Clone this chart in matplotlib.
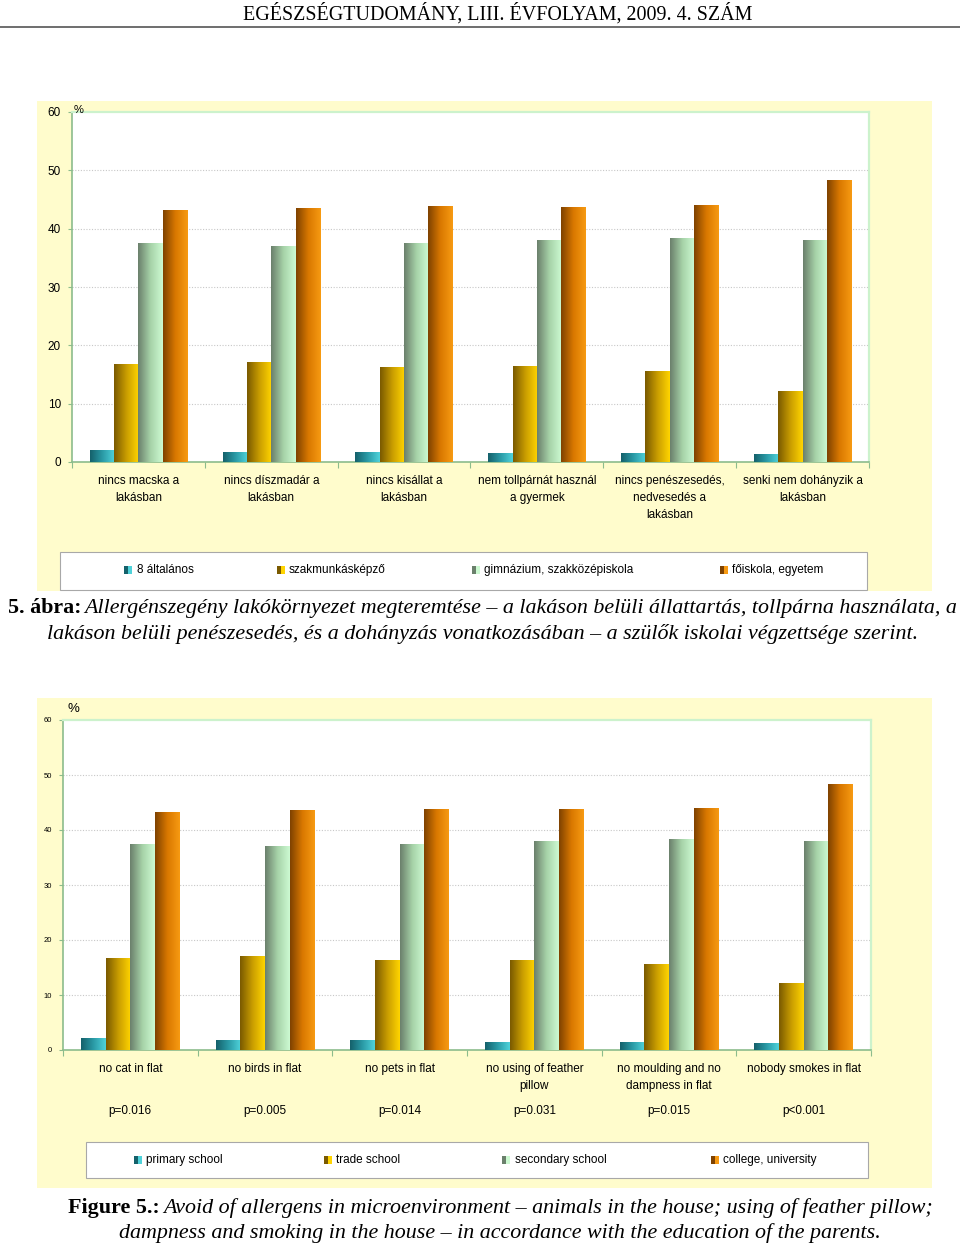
from __future__ import annotations

import matplotlib

matplotlib.use("Agg")
import matplotlib.pyplot as plt
import numpy as np
from matplotlib.colors import LinearSegmentedColormap
from matplotlib.lines import Line2D
from matplotlib.patches import Rectangle

W, H = 960, 1248

categories_hu = [
    "nincs macska a\nlakásban",
    "nincs díszmadár a\nlakásban",
    "nincs kisállat a\nlakásban",
    "nem tollpárnát használ\na gyermek",
    "nincs penészesedés,\nnedvesedés a\nlakásban",
    "senki nem dohányzik a\nlakásban",
]
categories_en = [
    "no cat in flat",
    "no birds in flat",
    "no pets in flat",
    "no using of feather\npillow",
    "no moulding and no\ndampness in flat",
    "nobody smokes in flat",
]
p_values = ["p=0.016", "p=0.005", "p=0.014", "p=0.031", "p=0.015", "p<0.001"]

series_hu = ["8 általános", "szakmunkásképző", "gimnázium, szakközépiskola", "főiskola, egyetem"]
series_en = ["primary school", "trade school", "secondary school", "college, university"]

primary = [2.1, 1.8, 1.8, 1.5, 1.5, 1.3]
trade = [16.8, 17.1, 16.3, 16.4, 15.6, 12.1]
secondary = [37.5, 37.1, 37.5, 38.0, 38.4, 38.0]
college = [43.2, 43.6, 43.9, 43.8, 44.0, 48.3]

y_ticks = [0, 10, 20, 30, 40, 50, 60]

GRADIENTS = [
    ["#15616b", "#2a9aa6", "#4fd2da"],
    ["#7a5a00", "#c99d00", "#ffd400"],
    ["#6b806c", "#a6d2a8", "#cdfad2"],
    ["#7f4200", "#d97800", "#f79a12"],
]
YELLOW = "#fffccc"
AXIS_GREEN = "#8cbc8c"
PALE_GREEN = "#ccf2cc"
SANS = ["Liberation Sans", "DejaVu Sans"]
SERIF = ["Liberation Serif", "DejaVu Serif"]
CAPTION_SIZE = 15.8


def _fx(x: float) -> float:
    return x / W


def _fy(y: float) -> float:
    return 1 - y / H


def _rect(fig, x0, y0, x1, y1, **kw) -> None:
    fig.add_artist(Rectangle((_fx(x0), _fy(y1)), (x1 - x0) / W, (y1 - y0) / H,
                             transform=fig.transFigure, **kw))


def _gradient_bars(ax, xs, heights, width, colors) -> None:
    cmap = LinearSegmentedColormap.from_list("bar", colors)
    grad = np.linspace(0, 1, 64).reshape(1, -1)
    bars = ax.bar(xs, heights, width, color="none", edgecolor="none", zorder=3)
    for bar in bars:
        x0, y0 = bar.get_x(), bar.get_y()
        im = ax.imshow(grad, extent=(x0, x0 + bar.get_width(), y0, y0 + bar.get_height()),
                       cmap=cmap, aspect="auto", interpolation="bilinear", zorder=3)
        im.set_clip_path(bar)


def _chart(fig, box, cats, tick_size, label_size):
    left, top, right, bottom = box
    ax = fig.add_axes([_fx(left), _fy(bottom), (right - left) / W, (bottom - top) / H])
    ax.set_facecolor("white")
    n = len(cats)
    xs = np.arange(n)
    width = 0.183
    for k, values in enumerate([primary, trade, secondary, college]):
        _gradient_bars(ax, xs + (k - 1.5) * width, values, width, GRADIENTS[k])
    ax.set_xlim(-0.5, n - 0.5)
    ax.set_ylim(0, 60)
    ax.set_yticks(y_ticks)
    ax.set_yticklabels([str(t) for t in y_ticks], fontsize=tick_size, family=SANS)
    for t in y_ticks[1:-1]:
        ax.axhline(t, color="#c8c8c8", lw=0.8, ls=(0, (1, 1.5)), zorder=1)
    ax.set_xticks(np.arange(-0.5, n, 1))
    ax.set_xticklabels([])
    ax.set_xticks(xs, labels=cats, minor=True)
    ax.tick_params(axis="x", which="minor", length=0, pad=9.5)
    ax.tick_params(axis="x", which="major", length=4, color=AXIS_GREEN, direction="out")
    ax.tick_params(axis="y", length=3, color=AXIS_GREEN, pad=5)
    for lab in ax.get_xticklabels(minor=True):
        lab.set_fontsize(label_size)
        lab.set_family(SANS)
        lab.set_linespacing(1.55)
    for side in ("left", "bottom"):
        ax.spines[side].set_color(AXIS_GREEN)
        ax.spines[side].set_linewidth(1.2)
    for side in ("top", "right"):
        ax.spines[side].set_color(PALE_GREEN)
        ax.spines[side].set_linewidth(1.6)
    return ax


def _legend(fig, box, labels, marker_xs, text_xs, yc) -> None:
    x0, y0, x1, y1 = box
    _rect(fig, x0, y0, x1, y1, facecolor="white", edgecolor="#a8a8a8", lw=0.8)
    for k, label in enumerate(labels):
        mx = marker_xs[k]
        _rect(fig, mx, yc - 4, mx + 4, yc + 4, facecolor=GRADIENTS[k][0], edgecolor="none")
        _rect(fig, mx + 4, yc - 4, mx + 8, yc + 4, facecolor=GRADIENTS[k][2], edgecolor="none")
        fig.text(_fx(text_xs[k]), _fy(yc), label, fontsize=8.5, family=SANS, ha="left", va="center")


def _caption_line(fig, renderer, x, y, bold, italic, size) -> None:
    t = fig.text(_fx(x), _fy(y), bold, fontsize=size, family=SERIF, weight="bold",
                 ha="left", va="center")
    bb = t.get_window_extent(renderer)
    fig.text(bb.x1 / W + 3 / W, _fy(y), italic, fontsize=size, family=SERIF,
             style="italic", ha="left", va="center")


def main() -> int:
    fig = plt.figure(figsize=(W / 100, H / 100), dpi=100)
    fig.patch.set_facecolor("white")
    renderer = fig.canvas.get_renderer()

    fig.text(_fx(498), _fy(14), "EGÉSZSÉGTUDOMÁNY, LIII. ÉVFOLYAM, 2009. 4. SZÁM",
             fontsize=14.4, family=SERIF, ha="center", va="center")
    fig.add_artist(Line2D([0, 1], [_fy(27), _fy(27)], transform=fig.transFigure,
                          color="#555555", lw=1.2))

    # top chart (Hungarian)
    _rect(fig, 37, 101, 932, 591, facecolor=YELLOW, edgecolor="none", zorder=0)
    _chart(fig, (72, 112, 869, 462), categories_hu, 8.5, 8.5)
    fig.text(_fx(74), _fy(110), "%", fontsize=8, family=SANS, ha="left", va="center")
    _legend(fig, (60, 552, 867, 590), series_hu, [124, 277, 472, 720], [137, 289, 484, 732], 570)

    _caption_line(fig, renderer, 8, 608, "5. ábra:",
                  "Allergénszegény lakókörnyezet megteremtése – a lakáson belüli állattartás, "
                  "tollpárna használata, a", CAPTION_SIZE)
    fig.text(_fx(483), _fy(634),
             "lakáson belüli penészesedés, és a dohányzás vonatkozásában – a szülők iskolai "
             "végzettsége szerint.", fontsize=CAPTION_SIZE, family=SERIF, style="italic",
             ha="center", va="center")

    # bottom chart (English)
    _rect(fig, 37, 698, 932, 1188, facecolor=YELLOW, edgecolor="none", zorder=0)
    ax = _chart(fig, (63, 720, 871, 1050), categories_en, 5.5, 8.5)
    fig.text(_fx(68), _fy(709), "%", fontsize=9.5, family=SANS, ha="left", va="center")
    for i, p in enumerate(p_values):
        ax.text(i, (1050 - 1111) / 330, p, transform=ax.get_xaxis_transform(),
                fontsize=8.5, family=SANS, ha="center", va="center")
    _legend(fig, (86, 1142, 868, 1178), series_en, [134, 324, 502, 711], [146, 336, 515, 723], 1160)

    _caption_line(fig, renderer, 68, 1208, "Figure 5.:",
                  "Avoid of allergens in microenvironment – animals in the house; "
                  "using of feather pillow;", CAPTION_SIZE)
    fig.text(_fx(500), _fy(1233),
             "dampness and smoking in the house – in accordance with the education of the parents.",
             fontsize=CAPTION_SIZE, family=SERIF, style="italic", ha="center", va="center")

    fig.savefig("out.png", dpi=100, facecolor="white")
    plt.close(fig)
    return 0


if __name__ == "__main__":
    raise SystemExit(main())
